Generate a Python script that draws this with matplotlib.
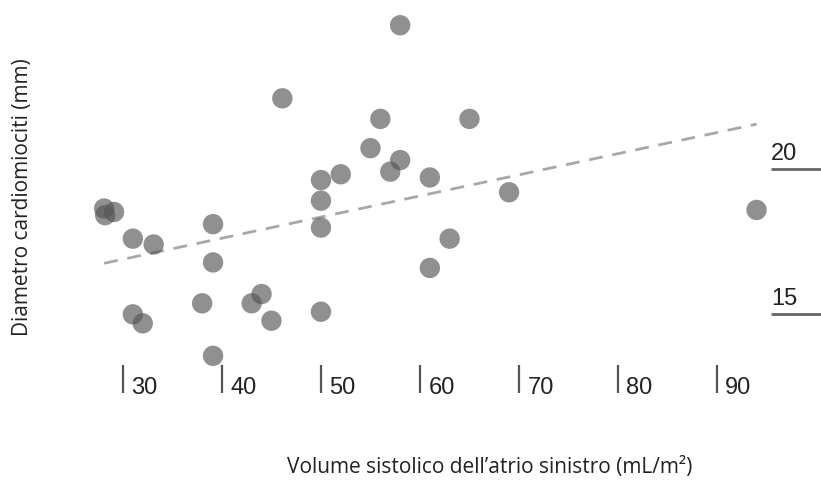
import matplotlib
matplotlib.use("Agg")
import matplotlib.pyplot as plt
from matplotlib.transforms import offset_copy
import numpy as np

# volume (mL/m2) vs diametro (mm)
volume = [58.0, 46.1, 56.0, 65.0, 55.0, 58.0, 57.0, 52.0, 50.0, 61.0,
          50.0, 50.0, 28.1, 28.2, 29.1, 31.0, 33.1, 39.1, 39.1, 38.0,
          43.0, 44.0, 45.0, 31.0, 32.0, 39.1, 50.0, 63.0, 61.0, 69.0, 94.0]
diametro = [24.97, 22.45, 21.74, 21.74, 20.73, 20.32, 19.92, 19.83, 19.63, 19.72,
            18.92, 17.99, 18.65, 18.42, 18.53, 17.61, 17.41, 18.11, 16.79, 15.38,
            15.38, 15.70, 14.78, 15.00, 14.69, 13.57, 15.09, 17.61, 16.60, 19.21, 18.60]

# retta di tendenza (estremi)
trend_x = [28.1, 94.0]
trend_y = [16.76, 21.56]

xticks = [30, 40, 50, 60, 70, 80, 90]
yticks = [15, 20]

fig = plt.figure(figsize=(8.21, 4.86), dpi=100)
ax = fig.add_axes([0, 0, 1, 1])
ax.set_xlim(17.58, 100.51)
ax.set_ylim(9.08, 25.84)
ax.axis('off')

ax.plot(trend_x, trend_y, color='#a8a8a8', lw=2, ls=(0, (5, 3.5)))
ax.scatter(volume, diametro, s=215, color='#555555', alpha=0.65, edgecolors='none', zorder=3)

# tacche asse x: barretta verticale con etichetta a destra
ax.vlines(xticks, 12.29, 13.25, color='#555555', lw=1.6, clip_on=False)
lab_tr = offset_copy(ax.transData, fig=fig, x=6.0, y=0, units='points')
for t in xticks:
    ax.text(t, 12.25, str(t), transform=lab_tr, fontsize=17, family='Liberation Sans',
            color='#222222', ha='left', va='baseline')

# tacche asse y: linea orizzontale a destra con etichetta sopra
ax.hlines(yticks, 95.45, 100.6, color='#666666', lw=2, clip_on=False)
ylab_tr = offset_copy(ax.transData, fig=fig, x=0.3, y=7, units='points')
for t in yticks:
    ax.text(95.45, t, str(t), transform=ylab_tr, fontsize=17, family='Liberation Sans',
            color='#222222', ha='left', va='baseline')

fig.text(490 / 821, 1 - 468 / 486, 'Volume sistolico dell\u2019atrio sinistro (mL/m\u00b2)',
         fontsize=15, family='Open Sans', color='#222222', ha='center', va='center')
fig.text(23 / 821, 1 - 197 / 486, 'Diametro cardiomiociti (mm)', rotation=90,
         fontsize=15, family='Open Sans', color='#222222', ha='center', va='center')

fig.savefig('out.png', dpi=100)
